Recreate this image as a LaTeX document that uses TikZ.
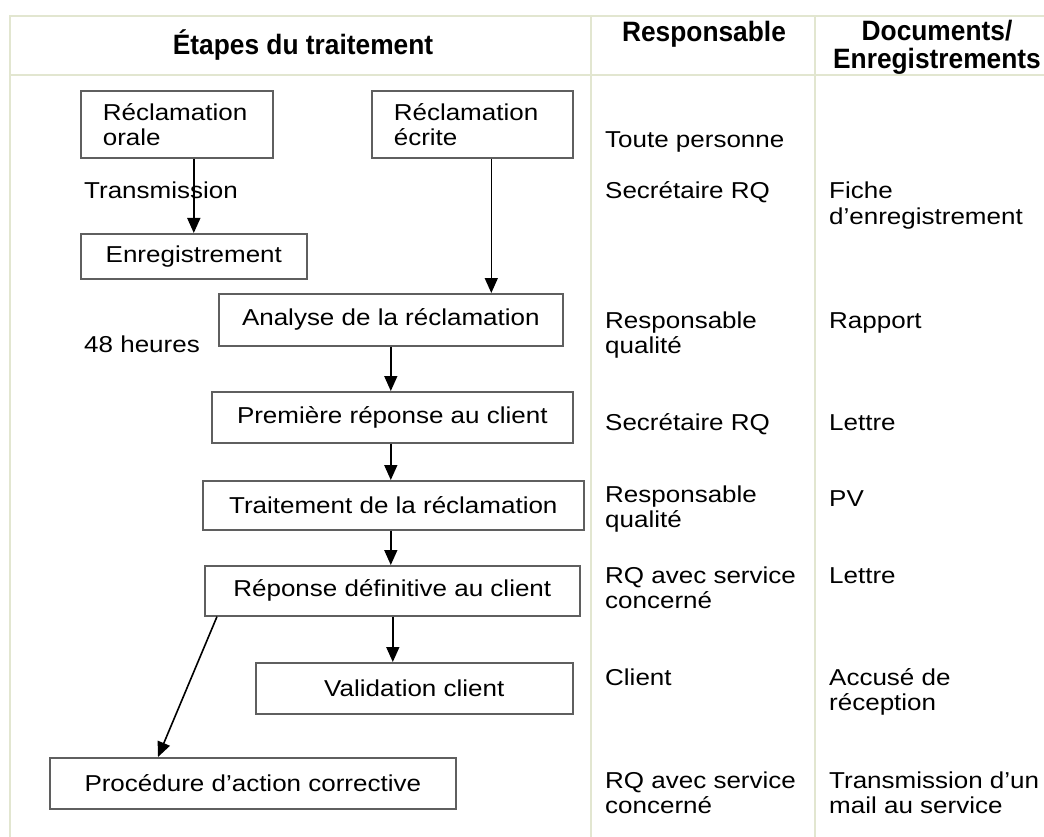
\documentclass[tikz,border=0pt]{standalone}
\usepackage{fontspec}
\setmainfont[FakeStretch=1.13]{Liberation Sans}
\newfontfamily\hdrfont[FakeStretch=0.94]{Liberation Sans}
\usetikzlibrary{arrows.meta}
\definecolor{tableline}{RGB}{226,230,208}
\definecolor{boxline}{RGB}{95,95,95}
\begin{document}
\begin{tikzpicture}[x=1pt,y=-1pt,
  txt/.style={font=\fontsize{23}{25}\selectfont},
  box/.style={txt, draw=boxline, line width=1.6pt, inner sep=0pt, anchor=north west},
  lbl/.style={txt, anchor=base west, inner sep=0pt},
  hdr/.style={font=\hdrfont\bfseries\fontsize{28}{25}\selectfont, anchor=base, inner sep=0pt},
  arr/.style={-{Triangle[width=13pt,length=15pt]}, line width=1.6pt, black},
  grid/.style={draw=tableline, line width=1.8pt}]
\useasboundingbox (0,0) rectangle (1044,837);
\fill[white] (0,0) rectangle (1044,837);
% table
\draw[grid] (10,837) -- (10,16) -- (1044,16);
\draw[grid] (10,75) -- (1044,75);
\draw[grid] (591,16) -- (591,837);
\draw[grid] (815,16) -- (815,837);
% headers
\node[hdr] (h1) at (303,55) {Étapes du traitement};
\node[hdr] (h2) at (704,42) {Responsable};
\node[hdr] (h3a) at (937,41) {Documents/};
\node[hdr] (h3b) at (937,69) {Enregistrements};
% boxes
\node[box, minimum width=192pt, minimum height=67pt, text width=148pt, inner xsep=22pt, align=left] (orale) at (80,90) {Réclamation\\orale};
\node[box, minimum width=201pt, minimum height=67pt, text width=157pt, inner xsep=22pt, align=left] (ecrite) at (371,90) {Réclamation\\écrite};
\node[box, minimum width=226pt, minimum height=45pt] (enreg) at (80,233) {Enregistrement};
\node[box, minimum width=344pt, minimum height=52pt] (analyse) at (218,293) {Analyse de la réclamation};
\node[box, minimum width=361pt, minimum height=51pt] (premiere) at (211,391) {Première réponse au client};
\node[box, minimum width=381pt, minimum height=49pt] (traitement) at (202,480) {Traitement de la réclamation};
\node[box, minimum width=375pt, minimum height=50pt] (repdef) at (204,565) {Réponse définitive au client};
\node[box, minimum width=317pt, minimum height=51pt] (valid) at (255,662) {Validation client};
\node[box, minimum width=406pt, minimum height=51pt] (proc) at (49,757) {Procédure d’action corrective};
% left labels
\node[lbl] (trans) at (84,199) {Transmission};
\node[lbl] (h48) at (84,352) {48 heures};
% arrows
\coordinate (a1) at ([xshift=0pt]analyse.south);
\coordinate (a2) at ([xshift=-1.5pt]premiere.south);
\coordinate (a3) at ([xshift=-2.5pt]traitement.south);
\coordinate (a4) at ([xshift=0.5pt]repdef.south);
\coordinate (ae) at ([xshift=19pt]ecrite.south);
\draw[arr] (orale.south -| enreg.north) -- (enreg.north);
\draw[arr] (ae) -- (ae |- analyse.north);
\draw[arr] (a1) -- (a1 |- premiere.north);
\draw[arr] (a2) -- (a2 |- traitement.north);
\draw[arr] (a3) -- (a3 |- repdef.north);
\draw[arr] (a4) -- (a4 |- valid.north);
\draw[arr] ([xshift=13pt]repdef.south west) -- ([xshift=109pt]proc.north west);
% Responsable column
\node[lbl] (tp) at (605,148) {Toute personne};
\node[lbl] (s1) at (605,199) {Secrétaire RQ};
\node[lbl] (r1) at (605,328) {Responsable};
\node[lbl] (r1b) at (605,353) {qualité};
\node[lbl] (s2) at (605,430) {Secrétaire RQ};
\node[lbl] (r2) at (605,502) {Responsable};
\node[lbl] (r2b) at (605,527) {qualité};
\node[lbl] (q1) at (605,583) {RQ avec service};
\node[lbl] (q1b) at (605,608) {concerné};
\node[lbl] (cl) at (605,685) {Client};
\node[lbl] (q2) at (605,788) {RQ avec service};
\node[lbl] (q2b) at (605,813) {concerné};
% Documents column
\node[lbl] (f1) at (829,199) {Fiche};
\node[lbl] (f2) at (829,225) {d’enregistrement};
\node[lbl] (rap) at (829,328) {Rapport};
\node[lbl] (l1) at (829,430) {Lettre};
\node[lbl] (pv) at (829,506) {PV};
\node[lbl] (l2) at (829,583) {Lettre};
\node[lbl] (ac) at (829,685) {Accusé de};
\node[lbl] (acb) at (829,710) {réception};
\node[lbl] (tm) at (829,788) {Transmission d’un};
\node[lbl] (tmb) at (829,813) {mail au service};
\end{tikzpicture}
\end{document}
